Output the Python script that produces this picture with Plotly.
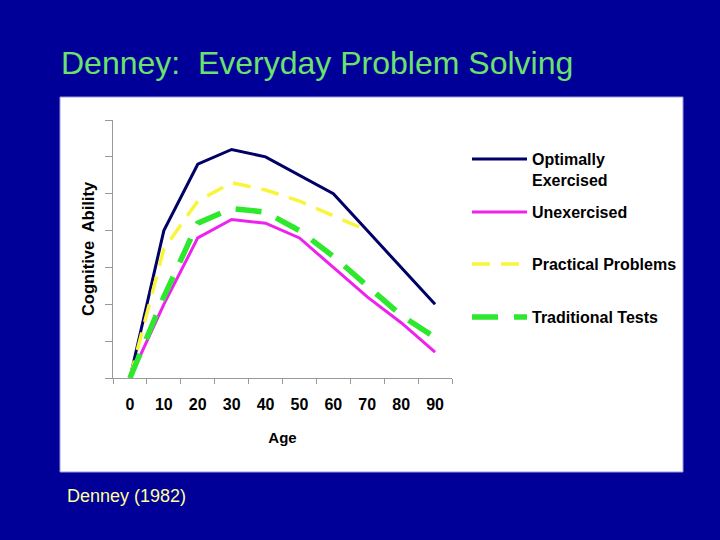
import plotly.graph_objects as go

ages = ["0", "10", "20", "30", "40", "50", "60", "70", "80", "90"]
optimally = [0, 4.0, 5.8, 6.2, 6.0, 5.5, 5.0, 4.0, 3.0, 2.0]
unexercised = [0, 2.0, 3.8, 4.3, 4.2, 3.8, 3.0, 2.2, 1.5, 0.7]
practical_ages = ["0", "10", "20", "30", "40", "50", "60", "70"]
practical = [0, 3.5, 4.8, 5.3, 5.1, 4.8, 4.4, 4.0]
traditional = [0, 2.2, 4.2, 4.6, 4.5, 4.0, 3.3, 2.5, 1.7, 1.1]

BG = "#000099"
W, H = 720, 540
L, R, T, B = 113, 452, 120, 378  # plot area in px


def px(x):
    return (x - L) / (R - L)


def py(y):
    return (B - y) / (B - T)


fig = go.Figure()
fig.add_trace(go.Scatter(x=ages, y=optimally, mode="lines", name="Optimally<br>Exercised",
                         line=dict(color="#000066", width=3), legend="legend"))
fig.add_trace(go.Scatter(x=ages, y=unexercised, mode="lines", name="Unexercised",
                         line=dict(color="#EE22EE", width=3), legend="legend2"))
fig.add_trace(go.Scatter(x=practical_ages, y=practical, mode="lines", name="Practical Problems",
                         line=dict(color="#F8F53A", width=3.5, dash="18px,11px"), legend="legend3"))
fig.add_trace(go.Scatter(x=ages, y=traditional, mode="lines", name="Traditional Tests",
                         line=dict(color="#2EE82E", width=5.5, dash="26px,16px"), legend="legend4"))

legfont = dict(family="Liberation Sans, Arial, sans-serif", size=16, color="black", weight="bold")


def leg(ycenter):
    return dict(x=px(467), y=py(ycenter - 16), xanchor="left", yanchor="top",
                bgcolor="rgba(0,0,0,0)", font=legfont, itemwidth=55, valign="top",
                borderwidth=0)


fig.update_layout(
    width=W, height=H,
    paper_bgcolor=BG, plot_bgcolor="white",
    margin=dict(l=L, r=W - R, t=T, b=H - B, pad=0),
    showlegend=True,
    legend=leg(158), legend2=leg(211), legend3=leg(263), legend4=leg(316),
    xaxis=dict(type="category", categoryorder="array", categoryarray=ages,
               tickson="boundaries", ticks="outside", ticklen=5, tickcolor="#999999",
               showline=True, linecolor="#999999", linewidth=1, showgrid=False,
               zeroline=False, range=[-0.5, 9.5],
               tickfont=dict(family="Liberation Sans, Arial, sans-serif", size=16, color="black",
                             weight="bold"),
               ticklabelstandoff=12,
               title=dict(text="<b>Age</b>", standoff=20,
                          font=dict(family="Liberation Sans, Arial, sans-serif", size=15,
                                    color="black"))),
    yaxis=dict(range=[0, 7], dtick=1, ticks="outside", ticklen=7, tickcolor="#999999",
               showline=True, linecolor="#999999", linewidth=1, showgrid=False,
               zeroline=False, showticklabels=False,
               title=dict(text="<b>Cognitive  Ability</b>", standoff=6,
                          font=dict(family="Liberation Sans, Arial, sans-serif", size=16.5,
                                    color="black"))),
    shapes=[dict(type="rect", xref="paper", yref="paper", layer="below",
                 x0=px(60), x1=px(683), y0=py(472), y1=py(97),
                 fillcolor="white", line=dict(color="#9999dd", width=1))],
    annotations=[
        dict(text="Denney:  Everyday Problem Solving", xref="paper", yref="paper",
             x=px(59), y=py(63), xanchor="left", yanchor="middle", showarrow=False,
             font=dict(family="Liberation Sans, Arial, sans-serif", size=32, color="#6CE26C")),
        dict(text="Denney (1982)", xref="paper", yref="paper",
             x=px(65), y=py(496), xanchor="left", yanchor="middle", showarrow=False,
             font=dict(family="Liberation Sans, Arial, sans-serif", size=18, color="#FFFF99")),
    ],
)

fig.write_html("out.html", config={"displayModeBar": False},
               post_script="document.body.style.margin='0';document.body.style.overflow='hidden';")
